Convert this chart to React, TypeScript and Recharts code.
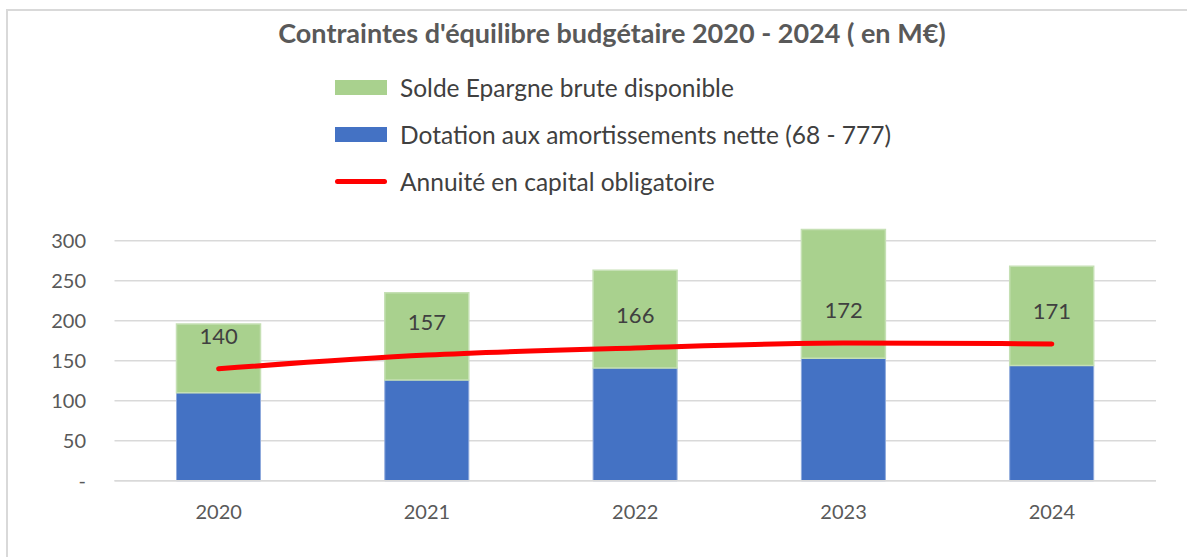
import { ComposedChart, Bar, Line, XAxis, YAxis, CartesianGrid, LabelList } from "recharts"

const years = ["2020", "2021", "2022", "2023", "2024"]
const dotation = [110, 126, 141, 153, 144]
const solde = [86, 109, 122, 161, 124]
const annuite = [140, 157, 166, 172, 171]
const yTicks = [0, 50, 100, 150, 200, 250, 300]

const data = years.map((year, i) => ({
  year,
  dotation: dotation[i],
  solde: solde[i],
  annuite: annuite[i],
}))

const FONT = "Lato, 'Open Sans', sans-serif"
const TEXT = "#404040"
const AXIS_TEXT = "#595959"
const GRID = "#D9D9D9"

const legendItems = [
  { label: "Solde Epargne brute disponible", color: "#A9D18E", kind: "bar" },
  { label: "Dotation aux amortissements nette (68 - 777)", color: "#4472C4", kind: "bar" },
  { label: "Annuité en capital obligatoire", color: "#FF0000", kind: "line" },
]

const ChartLegend = () => (
  <div
    style={{
      position: "absolute",
      left: 335,
      top: 64,
      fontFamily: FONT,
      fontSize: 24.5,
      color: TEXT,
      whiteSpace: "nowrap",
    }}
  >
    {legendItems.map((item) => (
      <div key={item.label} style={{ display: "flex", alignItems: "center", height: 47 }}>
        {item.kind === "bar" ? (
          <div style={{ width: 52, height: 15, background: item.color, marginRight: 13 }} />
        ) : (
          <div style={{ width: 52, height: 5, borderRadius: 3, background: item.color, marginRight: 13 }} />
        )}
        <span>{item.label}</span>
      </div>
    ))}
  </div>
)

export default function App() {
  return (
    <div
      style={{
        position: "absolute",
        left: 0,
        top: 0,
        width: 1187,
        height: 557,
        background: "#fff",
        overflow: "hidden",
      }}
    >
      <div
        style={{
          position: "absolute",
          left: 6,
          top: 9,
          width: 1250,
          height: 650,
          border: `2px solid ${GRID}`,
          boxSizing: "border-box",
        }}
      />
      <div
        style={{
          position: "absolute",
          left: 0,
          width: 1224,
          top: 16,
          textAlign: "center",
          fontFamily: FONT,
          fontWeight: 700,
          fontSize: 27,
          color: AXIS_TEXT,
          whiteSpace: "nowrap",
        }}
      >
        Contraintes d'équilibre budgétaire 2020 - 2024 ( en M€)
      </div>
      <ChartLegend />
      <ComposedChart
        width={1187}
        height={557}
        data={data}
        margin={{ top: 200.7, right: 31, bottom: 46.3, left: 0 }}
        style={{ position: "absolute", left: 0, top: 0 }}
      >
        <CartesianGrid vertical={false} horizontalValues={yTicks} stroke={GRID} strokeWidth={1.5} />
        <XAxis
          dataKey="year"
          height={30}
          axisLine={{ stroke: GRID, strokeWidth: 1.5 }}
          tickLine={false}
          tickSize={0}
          tickMargin={24}
          tick={{ fill: AXIS_TEXT, fontSize: 20, fontFamily: FONT }}
        />
        <YAxis
          width={114.5}
          domain={[0, 350]}
          ticks={yTicks}
          interval={0}
          axisLine={false}
          tickLine={false}
          tickSize={0}
          tickMargin={28.5}
          tickFormatter={(v: number) => (v === 0 ? "-" : String(v))}
          tick={{ fill: AXIS_TEXT, fontSize: 20, fontFamily: FONT }}
        />
        <Bar dataKey="dotation" stackId="a" fill="#4472C4" stroke="#8FAADC" strokeWidth={1} barSize={84} isAnimationActive={false} />
        <Bar dataKey="solde" stackId="a" fill="#A9D18E" stroke="#C5E0B4" strokeWidth={1.5} barSize={84} isAnimationActive={false} />
        <Line
          dataKey="annuite"
          type="monotone"
          stroke="#FF0000"
          strokeWidth={5}
          strokeLinecap="round"
          dot={false}
          activeDot={false}
          isAnimationActive={false}
        >
          <LabelList dataKey="annuite" position="top" offset={25} fill={TEXT} fontSize={22} fontFamily={FONT} />
        </Line>
      </ComposedChart>
    </div>
  )
}
